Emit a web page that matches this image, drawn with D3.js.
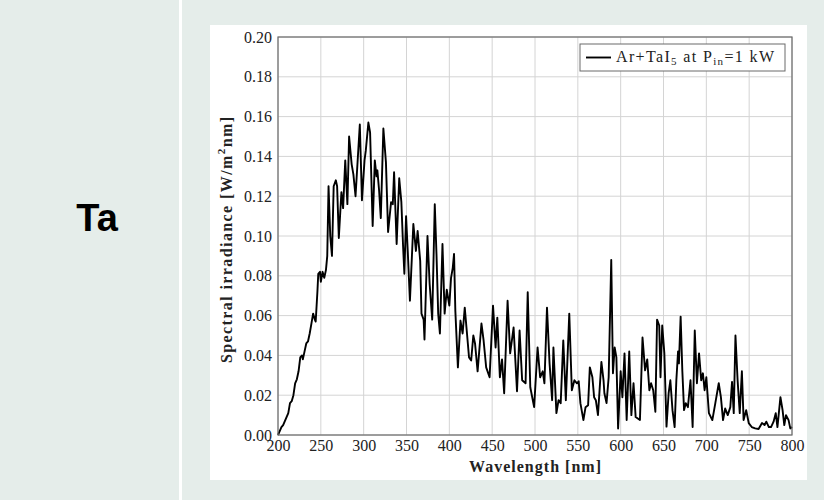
<!DOCTYPE html>
<html>
<head>
<meta charset="utf-8">
<script src="https://cdn.jsdelivr.net/npm/d3@7"></script>
<style>
  html, body { margin: 0; padding: 0; background: #e5edea; }
  svg { display: block; }
</style>
</head>
<body>
<svg id="chart" width="824" height="500"></svg>
<script>
/* Spectral irradiance of Ar+TaI5 lamp */
const wavelengths = [
  200, 202, 204, 206, 208, 210, 212, 214, 216, 218, 220, 222, 224, 226, 228, 229, 231, 233, 235, 237,
  239, 241, 243, 244, 246, 247, 249, 250, 252, 254, 256, 257.5, 259, 261, 263, 265, 267.5, 269, 271, 274,
  276, 278.5, 281, 283, 286, 288, 290.5, 295.5, 298, 301, 302.5, 305.5, 307.5, 310.5, 313, 315, 316, 318, 320, 323,
  326, 328.5, 332, 334, 335.5, 338.5, 341.5, 344, 346, 347.5, 349.5, 351.5, 354, 358, 361, 363, 366, 367.5, 370, 371,
  374.5, 377, 380, 383, 385, 387, 389, 392, 394.5, 397, 400, 402, 404, 405.5, 407, 410, 413, 415.5, 418, 420,
  423, 425.5, 428, 430, 433, 437.5, 440, 443, 447, 451, 454, 456, 459, 461.5, 464, 468, 471, 475, 479, 482,
  485, 489, 491.5, 494.5, 499, 503, 506, 509, 511, 514, 517, 520, 521.5, 525, 527.5, 530, 533, 536, 540, 543,
  546, 549, 551, 553, 556.5, 559, 562, 564, 567, 569, 571, 573.5, 577.5, 580, 581, 583.5, 586, 589, 591, 593,
  595, 597, 600, 602, 604.5, 607, 610, 612.5, 615, 617.5, 622.5, 625.5, 628.5, 631, 633.5, 635.5, 638, 640.5, 642.5, 645,
  646.5, 648.5, 651, 653.5, 656, 658, 660.5, 663, 665, 667, 668, 670, 672, 674, 676, 678.5, 681.5, 684, 686.5, 689,
  691.5, 694, 696, 698, 700, 703, 707, 710.5, 714.5, 717, 719.5, 722, 725, 728, 730, 732, 734, 736.5, 739, 741.5,
  743.5, 746.5, 749.5, 753, 757, 761, 765, 768, 770, 773, 775.5, 778.5, 781, 783, 786.5, 789, 791, 793, 796, 798,
  800
];
const irradiance = [
  0.000, 0.002, 0.004, 0.005, 0.007, 0.009, 0.011, 0.016, 0.017, 0.020, 0.026, 0.028, 0.032, 0.039, 0.040, 0.038, 0.042, 0.046, 0.047, 0.051,
  0.056, 0.061, 0.058, 0.057, 0.072, 0.081, 0.082, 0.077, 0.082, 0.079, 0.083, 0.090, 0.125, 0.100, 0.090, 0.125, 0.128, 0.125, 0.099, 0.122,
  0.114, 0.138, 0.116, 0.150, 0.136, 0.131, 0.120, 0.156, 0.118, 0.138, 0.143, 0.157, 0.152, 0.105, 0.138, 0.130, 0.133, 0.123, 0.109, 0.154,
  0.137, 0.102, 0.117, 0.116, 0.132, 0.096, 0.129, 0.117, 0.095, 0.081, 0.110, 0.092, 0.0675, 0.106, 0.0925, 0.1025, 0.0875, 0.061, 0.058, 0.048,
  0.100, 0.076, 0.058, 0.116, 0.091, 0.061, 0.051, 0.096, 0.061, 0.073, 0.065, 0.079, 0.084, 0.091, 0.0625, 0.034, 0.0575, 0.051, 0.064, 0.054,
  0.039, 0.0375, 0.050, 0.046, 0.032, 0.056, 0.0475, 0.034, 0.029, 0.065, 0.044, 0.059, 0.029, 0.038, 0.021, 0.0675, 0.041, 0.054, 0.022, 0.0525,
  0.0275, 0.026, 0.0717, 0.024, 0.014, 0.044, 0.029, 0.032, 0.026, 0.064, 0.036, 0.0175, 0.044, 0.011, 0.0175, 0.016, 0.0475, 0.0175, 0.061, 0.0225,
  0.0275, 0.026, 0.027, 0.016, 0.0075, 0.014, 0.015, 0.034, 0.029, 0.019, 0.0175, 0.010, 0.0367, 0.0275, 0.021, 0.016, 0.029, 0.088, 0.031, 0.044,
  0.039, 0.0033, 0.032, 0.019, 0.041, 0.0075, 0.042, 0.010, 0.026, 0.009, 0.0075, 0.049, 0.0325, 0.038, 0.0225, 0.026, 0.0225, 0.0117, 0.058, 0.055,
  0.029, 0.055, 0.041, 0.0042, 0.021, 0.0275, 0.0125, 0.004, 0.0275, 0.042, 0.036, 0.0595, 0.032, 0.0125, 0.016, 0.014, 0.0275, 0.004, 0.0525, 0.026,
  0.041, 0.0275, 0.031, 0.0225, 0.029, 0.011, 0.0075, 0.016, 0.026, 0.019, 0.0075, 0.0133, 0.010, 0.014, 0.0267, 0.011, 0.050, 0.0275, 0.011, 0.032,
  0.0075, 0.0125, 0.006, 0.004, 0.0033, 0.003, 0.006, 0.005, 0.0067, 0.004, 0.004, 0.0067, 0.011, 0.004, 0.019, 0.0125, 0.005, 0.010, 0.0075, 0.0033,
  0.004
];
const xTicks = [200, 250, 300, 350, 400, 450, 500, 550, 600, 650, 700, 750, 800];
const yTicks = [0, 0.02, 0.04, 0.06, 0.08, 0.10, 0.12, 0.14, 0.16, 0.18, 0.20];

const SERIF = '"Liberation Serif", "DejaVu Serif", serif';

const svg = d3.select('#chart');

// ── page frame: left label column, separator, white figure panel ──
svg.append('rect')
  .attr('x', 0).attr('y', 0).attr('width', 824).attr('height', 500)
  .attr('fill', '#e5edea');
svg.append('rect')
  .attr('x', 179).attr('y', 0).attr('width', 3).attr('height', 500)
  .attr('fill', '#ffffff');
svg.append('text')
  .attr('x', 97).attr('y', 231)
  .attr('text-anchor', 'middle')
  .attr('font-family', '"Liberation Sans", Arial, sans-serif')
  .attr('font-weight', 700)
  .attr('font-size', 38)
  .attr('fill', '#000')
  .text('Ta');
svg.append('rect')
  .attr('x', 210).attr('y', 25).attr('width', 597).attr('height', 455)
  .attr('fill', '#ffffff');

// ── plot area ──
const margin = { left: 278, top: 37, right: 792, bottom: 435 };

const x = d3.scaleLinear().domain([200, 800]).range([margin.left, margin.right]);
const y = d3.scaleLinear().domain([0, 0.2]).range([margin.bottom, margin.top]);

const g = svg.append('g');

// grid
g.selectAll('.vgrid')
  .data(xTicks)
  .join('line')
  .attr('x1', d => x(d)).attr('x2', d => x(d))
  .attr('y1', margin.top).attr('y2', margin.bottom)
  .attr('stroke', '#d4d4d4').attr('stroke-width', 1);
g.selectAll('.hgrid')
  .data(yTicks)
  .join('line')
  .attr('x1', margin.left).attr('x2', margin.right)
  .attr('y1', d => y(d)).attr('y2', d => y(d))
  .attr('stroke', '#d4d4d4').attr('stroke-width', 1);

// axes via d3 axis generators (labels only, frame drawn separately)
g.append('g')
  .attr('transform', `translate(0,${margin.bottom})`)
  .call(d3.axisBottom(x).tickValues(xTicks).tickFormat(d3.format('d')).tickSize(0).tickPadding(5))
  .call(ax => ax.select('.domain').remove())
  .call(ax => ax.selectAll('.tick text')
    .attr('font-family', SERIF).attr('font-size', 16).attr('fill', '#222'));

g.append('g')
  .attr('transform', `translate(${margin.left},0)`)
  .call(d3.axisLeft(y).tickValues(yTicks).tickFormat(d3.format('.2f')).tickSize(0).tickPadding(6))
  .call(ax => ax.select('.domain').remove())
  .call(ax => ax.selectAll('.tick text')
    .attr('font-family', SERIF).attr('font-size', 16).attr('fill', '#222'));

// spectrum line
const points = wavelengths.map((w, i) => [w, irradiance[i]]);
const line = d3.line().x(d => x(d[0])).y(d => y(d[1]));

g.append('path')
  .datum(points)
  .attr('d', line)
  .attr('fill', 'none')
  .attr('stroke', '#000')
  .attr('stroke-width', 1.9)
  .attr('stroke-linejoin', 'round');

// frame
g.append('rect')
  .attr('x', margin.left).attr('y', margin.top)
  .attr('width', margin.right - margin.left).attr('height', margin.bottom - margin.top)
  .attr('fill', 'none').attr('stroke', '#6a6a6a').attr('stroke-width', 1.2);

// axis titles
svg.append('text')
  .attr('transform', `translate(232,${(margin.top + margin.bottom) / 2 + 4}) rotate(-90)`)
  .attr('text-anchor', 'middle')
  .attr('font-family', SERIF).attr('font-weight', 700).attr('font-size', 16)
  .attr('fill', '#222')
  .attr('textLength', 246).attr('lengthAdjust', 'spacing')
  .call(t => {
    t.append('tspan').text('Spectral irradiance [W/m');
    t.append('tspan').attr('font-size', 11).attr('dy', -7).text('2');
    t.append('tspan').attr('dy', 7).text('nm]');
  });

svg.append('text')
  .attr('x', (margin.left + margin.right) / 2).attr('y', 472)
  .attr('text-anchor', 'middle')
  .attr('font-family', SERIF).attr('font-weight', 700).attr('font-size', 16)
  .attr('fill', '#222')
  .attr('textLength', 132).attr('lengthAdjust', 'spacing')
  .text('Wavelength [nm]');

// legend
const lg = svg.append('g');
lg.append('rect')
  .attr('x', 580).attr('y', 44).attr('width', 205).attr('height', 27)
  .attr('fill', '#fff').attr('stroke', '#6a6a6a').attr('stroke-width', 1);
lg.append('line')
  .attr('x1', 586).attr('x2', 611).attr('y1', 57.5).attr('y2', 57.5)
  .attr('stroke', '#000').attr('stroke-width', 1.9);
lg.append('text')
  .attr('x', 616).attr('y', 62)
  .attr('font-family', SERIF).attr('font-size', 16).attr('fill', '#222')
  .attr('textLength', 158).attr('lengthAdjust', 'spacing')
  .call(t => {
    t.append('tspan').text('Ar+TaI');
    t.append('tspan').attr('font-size', 11).attr('dy', 3).text('5');
    t.append('tspan').attr('dy', -3).text(' at P');
    t.append('tspan').attr('font-size', 11).attr('dy', 3).text('in');
    t.append('tspan').attr('dy', -3).text('=1 kW');
  });
</script>
</body>
</html>
